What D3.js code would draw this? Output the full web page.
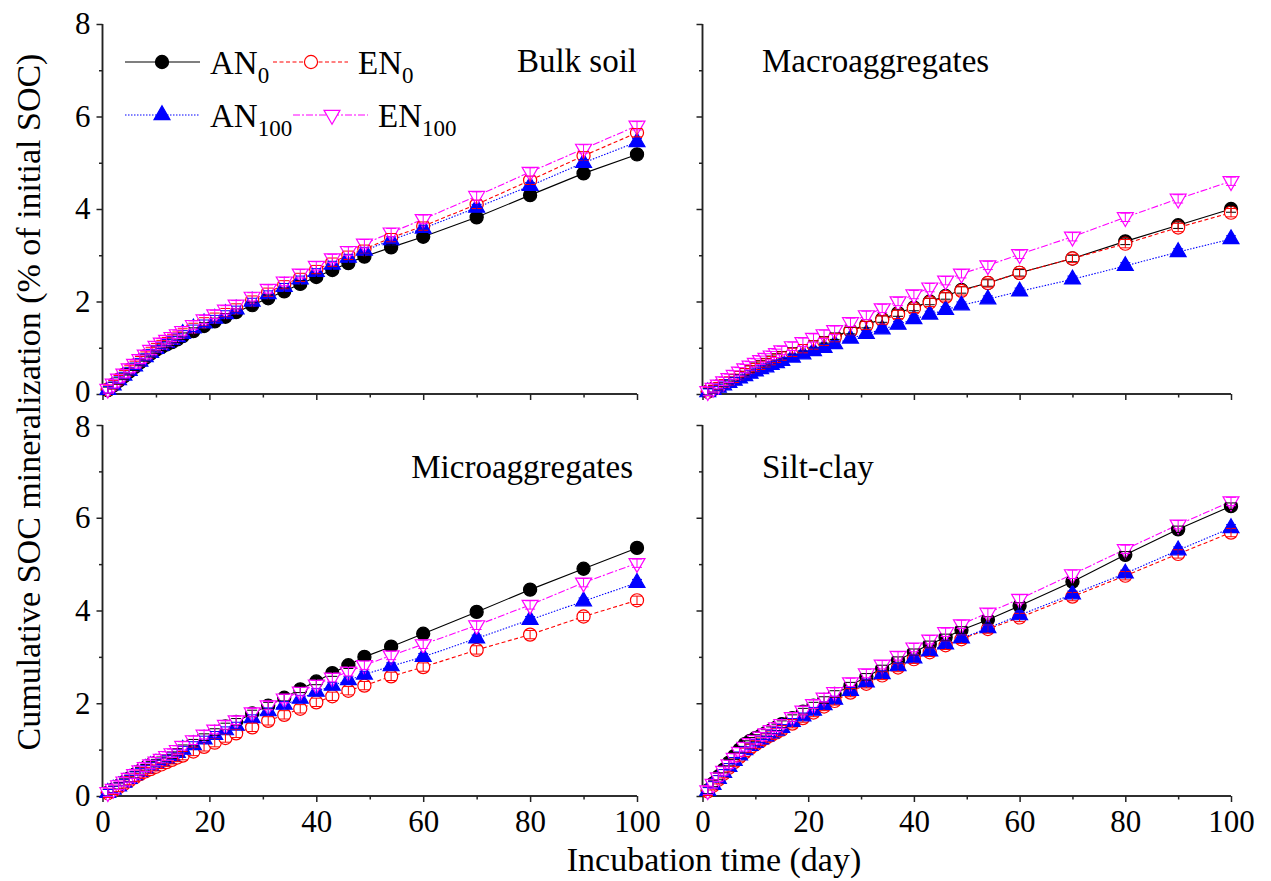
<!DOCTYPE html>
<html>
<head>
<meta charset="utf-8">
<script src="https://cdn.jsdelivr.net/npm/d3@7"></script>
<style>
  body { margin: 0; background: #fff; }
  text { font-family: "Liberation Serif", "Times New Roman", serif; fill: #000; }
</style>
</head>
<body>
<div id="chart"></div>
<script>
// Data
const days = [1,2,3,4,5,6,7,8,9,10,11,12,13,14,15,17,19,21,23,25,28,31,34,37,40,43,46,49,54,60,70,80,90,100];
const seriesNames = ["AN0", "EN0", "AN100", "EN100"];
const panelTitles = ["Bulk soil", "Macroaggregates", "Microaggregates", "Silt-clay"];
const errSE = [0.07, 0.09, 0.07, 0.09];
const yTicks = [0, 2, 4, 6, 8];
const yMinor = [1, 3, 5, 7];
const xTicks = [0, 20, 40, 60, 80, 100];
const xMinor = [10, 30, 50, 70, 90];

// Bulk soil
const bulkAN0 = [0.08,0.18,0.28,0.38,0.48,0.58,0.68,0.78,0.87,0.95,1.01,1.07,1.12,1.18,1.25,1.36,1.47,1.57,1.67,1.77,1.92,2.07,2.22,2.38,2.53,2.68,2.83,2.97,3.17,3.40,3.82,4.30,4.77,5.18];
const bulkEN0 = [0.10,0.20,0.31,0.42,0.52,0.62,0.72,0.82,0.91,1.00,1.07,1.13,1.19,1.25,1.32,1.44,1.56,1.66,1.76,1.86,2.03,2.20,2.36,2.52,2.69,2.85,3.00,3.13,3.38,3.63,4.10,4.62,5.15,5.65];
const bulkAN100 = [0.09,0.19,0.30,0.40,0.50,0.60,0.70,0.80,0.89,0.98,1.05,1.11,1.17,1.23,1.30,1.42,1.53,1.63,1.73,1.83,2.00,2.16,2.32,2.48,2.64,2.80,2.95,3.10,3.33,3.58,4.03,4.50,5.00,5.45];
const bulkEN100 = [0.11,0.22,0.33,0.44,0.55,0.65,0.75,0.85,0.95,1.04,1.11,1.17,1.23,1.29,1.36,1.49,1.61,1.72,1.82,1.93,2.10,2.27,2.43,2.60,2.77,2.93,3.09,3.25,3.49,3.78,4.28,4.80,5.30,5.80];

// Macroaggregates
const macroAN0 = [0.05,0.11,0.17,0.23,0.29,0.35,0.42,0.48,0.54,0.60,0.65,0.70,0.75,0.80,0.85,0.93,1.00,1.08,1.17,1.25,1.37,1.50,1.62,1.75,1.87,2.00,2.12,2.25,2.40,2.62,2.93,3.30,3.65,4.00];
const macroEN0 = [0.05,0.10,0.16,0.22,0.28,0.34,0.40,0.46,0.52,0.57,0.62,0.67,0.72,0.77,0.82,0.90,0.98,1.06,1.14,1.22,1.36,1.48,1.60,1.72,1.85,1.98,2.10,2.23,2.40,2.62,2.93,3.25,3.60,3.92];
const macroAN100 = [0.04,0.09,0.14,0.19,0.24,0.29,0.34,0.39,0.44,0.49,0.54,0.58,0.63,0.67,0.72,0.79,0.86,0.93,1.00,1.08,1.20,1.30,1.40,1.50,1.62,1.72,1.82,1.92,2.05,2.22,2.48,2.77,3.07,3.35];
const macroEN100 = [0.06,0.13,0.20,0.27,0.34,0.41,0.48,0.55,0.61,0.67,0.73,0.78,0.83,0.88,0.94,1.03,1.12,1.21,1.29,1.38,1.55,1.70,1.85,2.00,2.15,2.30,2.45,2.60,2.78,3.02,3.40,3.82,4.22,4.60];

// Microaggregates
const microAN0 = [0.07,0.14,0.22,0.30,0.38,0.46,0.54,0.61,0.67,0.72,0.77,0.82,0.88,0.95,1.03,1.15,1.27,1.38,1.50,1.60,1.78,1.95,2.12,2.30,2.47,2.65,2.82,3.00,3.22,3.50,3.97,4.45,4.90,5.35];
const microEN0 = [0.06,0.12,0.19,0.26,0.33,0.40,0.47,0.53,0.58,0.63,0.68,0.73,0.78,0.83,0.87,0.96,1.06,1.15,1.25,1.35,1.48,1.62,1.75,1.88,2.02,2.15,2.27,2.38,2.58,2.78,3.15,3.48,3.87,4.22];
const microAN100 = [0.07,0.14,0.21,0.29,0.37,0.45,0.52,0.59,0.65,0.70,0.75,0.80,0.86,0.93,1.00,1.10,1.22,1.32,1.42,1.52,1.68,1.83,1.97,2.10,2.25,2.38,2.50,2.62,2.80,3.00,3.40,3.80,4.20,4.60];
const microEN100 = [0.08,0.15,0.23,0.31,0.39,0.47,0.55,0.62,0.68,0.74,0.80,0.86,0.92,0.99,1.08,1.20,1.32,1.43,1.53,1.63,1.80,1.95,2.10,2.25,2.40,2.55,2.68,2.82,3.03,3.27,3.68,4.12,4.60,5.02];

// Silt-clay
const siltAN0 = [0.12,0.27,0.42,0.57,0.72,0.86,1.00,1.12,1.19,1.25,1.30,1.36,1.42,1.48,1.55,1.68,1.82,1.95,2.07,2.20,2.38,2.57,2.75,2.93,3.10,3.27,3.42,3.58,3.80,4.10,4.62,5.20,5.75,6.25];
const siltEN0 = [0.10,0.22,0.35,0.48,0.61,0.73,0.84,0.94,1.03,1.11,1.18,1.25,1.31,1.37,1.43,1.56,1.68,1.80,1.93,2.05,2.23,2.42,2.60,2.77,2.95,3.10,3.25,3.38,3.60,3.85,4.30,4.75,5.22,5.68];
const siltAN100 = [0.11,0.24,0.37,0.50,0.63,0.76,0.88,0.99,1.08,1.15,1.22,1.29,1.35,1.41,1.47,1.60,1.72,1.84,1.96,2.08,2.27,2.45,2.63,2.80,2.97,3.12,3.27,3.40,3.62,3.90,4.35,4.80,5.30,5.78];
const siltEN100 = [0.12,0.26,0.40,0.54,0.68,0.82,0.95,1.06,1.14,1.21,1.28,1.35,1.42,1.48,1.55,1.70,1.84,1.98,2.12,2.24,2.45,2.64,2.83,3.02,3.20,3.37,3.53,3.70,3.95,4.25,4.78,5.32,5.85,6.35];

const panelData = [
  [bulkAN0, bulkEN0, bulkAN100, bulkEN100],
  [macroAN0, macroEN0, macroAN100, macroEN100],
  [microAN0, microEN0, microAN100, microEN100],
  [siltAN0, siltEN0, siltAN100, siltEN100]
];

// Styles per series
const styles = [
  { color: "#000000", dash: null,      sym: d3.symbolCircle,   size: 135, fill: "#000000", rot: 0 },
  { color: "#ff0000", dash: "4,2.5",   sym: d3.symbolCircle,   size: 135, fill: "#ffffff", rot: 0 },
  { color: "#0000ff", dash: "1.5,1.5", sym: d3.symbolTriangle, size: 110, fill: "#0000ff", rot: 0 },
  { color: "#ff00ff", dash: "7,2,2,2", sym: d3.symbolTriangle, size: 110, fill: "#ffffff", rot: 180 }
];

// Panel layout
const layout = [
  { x0: 102.5, x1: 637,  y0: 394, y1: 24,  xLab: false, yLab: true,  tx: 637, ty: 72,  anchor: "end" },
  { x0: 702.5, x1: 1231, y0: 394, y1: 24,  xLab: false, yLab: false, tx: 762, ty: 72,  anchor: "start" },
  { x0: 102.5, x1: 637,  y0: 796, y1: 425, xLab: true,  yLab: true,  tx: 633, ty: 478, anchor: "end" },
  { x0: 702.5, x1: 1231, y0: 796, y1: 425, xLab: true,  yLab: false, tx: 762, ty: 478, anchor: "start" }
];

const width = 1271;
const height = 881;
const fontSize = 33;
const tickFont = 31;

const svg = d3.select("#chart")
  .append("svg")
  .attr("width", width)
  .attr("height", height);

layout.forEach((L, p) => {
  const x = d3.scaleLinear().domain([0, 100]).range([L.x0, L.x1]);
  const y = d3.scaleLinear().domain([0, 8]).range([L.y0, L.y1]);
  const g = svg.append("g");

  // Axes
  const yAxis = d3.axisLeft(y).tickValues(yTicks).tickSize(6).tickPadding(6)
    .tickFormat(L.yLab ? d3.format("d") : "");
  const yAxisMinor = d3.axisLeft(y).tickValues(yMinor).tickSize(3.5).tickFormat("");
  const xAxis = d3.axisBottom(x).tickValues(xTicks).tickSize(6).tickPadding(8)
    .tickFormat(L.xLab ? d3.format("d") : "");
  const xAxisMinor = d3.axisBottom(x).tickValues(xMinor).tickSize(3.5).tickFormat("");

  [[yAxis, "y"], [yAxisMinor, "y"], [xAxis, "x"], [xAxisMinor, "x"]].forEach(([ax, k]) => {
    const a = g.append("g")
      .attr("transform", k === "y" ? `translate(${L.x0},0)` : `translate(0,${L.y0})`)
      .call(ax);
    a.selectAll("path, line").attr("stroke", "#222").attr("stroke-width", 1.5);
    a.selectAll("path").attr("d", k === "y"
      ? `M0,${L.y0}V${L.y1}` : `M${L.x0},0H${L.x1}`);
    a.selectAll("text").style("font-size", tickFont + "px")
      .style("font-family", "'Liberation Serif', serif").attr("fill", "#000");
  });

  // nudge the stacked "0" (top panel) and "8" (bottom panel) apart a little
  if (L.yLab) {
    g.selectAll("text").filter(d => d === 0 && p < 2).attr("transform", "translate(0,-2)");
    g.selectAll("text").filter(d => d === 8 && p >= 2).attr("transform", "translate(0,2)");
  }

  // Lines
  const series = panelData[p];
  series.forEach((vals, s) => {
    const line = d3.line().x((d, i) => x(days[i])).y(d => y(d));
    g.append("path")
      .datum(vals)
      .attr("d", line)
      .attr("fill", "none")
      .attr("stroke", styles[s].color)
      .attr("stroke-width", 1.1)
      .attr("stroke-dasharray", styles[s].dash);
  });

  // Markers
  series.forEach((vals, s) => {
    const st = styles[s];
    g.append("g").selectAll("path")
      .data(vals)
      .join("path")
      .attr("d", d3.symbol(st.sym, st.size))
      .attr("transform", (d, i) => `translate(${x(days[i])},${y(d)}) rotate(${st.rot})`)
      .attr("fill", st.fill)
      .attr("stroke", st.color)
      .attr("stroke-width", 1.2);
  });

  // Error bars
  series.forEach((vals, s) => {
    const st = styles[s];
    const eb = g.append("g").attr("stroke", st.color).attr("stroke-width", 1);
    vals.forEach((v, i) => {
      const cx = x(days[i]);
      const ya = y(v + errSE[s]);
      const yb = y(v - errSE[s]);
      eb.append("line").attr("x1", cx).attr("x2", cx).attr("y1", ya).attr("y2", yb);
      eb.append("line").attr("x1", cx - 5).attr("x2", cx + 5).attr("y1", ya).attr("y2", ya);
      eb.append("line").attr("x1", cx - 5).attr("x2", cx + 5).attr("y1", yb).attr("y2", yb);
    });
  });

  // Panel title
  svg.append("text")
    .attr("x", L.tx)
    .attr("y", L.ty)
    .attr("text-anchor", L.anchor)
    .style("font-size", fontSize + "px")
    .text(panelTitles[p]);
});

// Legend (in the first panel)
const legendItems = [
  { s: 0, base: "AN", sub: "0",   lx0: 125, lx1: 200, mx: 162, ty: 62,  tx: 210 },
  { s: 1, base: "EN", sub: "0",   lx0: 273, lx1: 348, mx: 311, ty: 62,  tx: 358 },
  { s: 2, base: "AN", sub: "100", lx0: 125, lx1: 200, mx: 162, ty: 115, tx: 210 },
  { s: 3, base: "EN", sub: "100", lx0: 293, lx1: 368, mx: 332, ty: 115, tx: 378 }
];
const legend = svg.append("g");
legendItems.forEach(it => {
  const st = styles[it.s];
  legend.append("line")
    .attr("x1", it.lx0).attr("x2", it.lx1)
    .attr("y1", it.ty).attr("y2", it.ty)
    .attr("stroke", st.color).attr("stroke-width", 1.1)
    .attr("stroke-dasharray", st.dash);
  legend.append("path")
    .attr("d", d3.symbol(st.sym, st.size))
    .attr("transform", `translate(${it.mx},${it.ty}) rotate(${st.rot})`)
    .attr("fill", st.fill)
    .attr("stroke", st.color)
    .attr("stroke-width", 1.2);
  const t = legend.append("text")
    .attr("x", it.tx)
    .attr("y", it.ty + 12)
    .style("font-size", fontSize + "px");
  t.append("tspan").text(it.base);
  t.append("tspan").attr("dy", 9).style("font-size", "23px").text(it.sub);
});

// Axis titles
svg.append("text")
  .attr("transform", "translate(40,402) rotate(-90)")
  .attr("text-anchor", "middle")
  .style("font-size", "34px")
  .text("Cumulative SOC mineralization (% of initial SOC)");

svg.append("text")
  .attr("x", 714)
  .attr("y", 871)
  .attr("text-anchor", "middle")
  .style("font-size", "34px")
  .text("Incubation time (day)");
</script>
</body>
</html>
